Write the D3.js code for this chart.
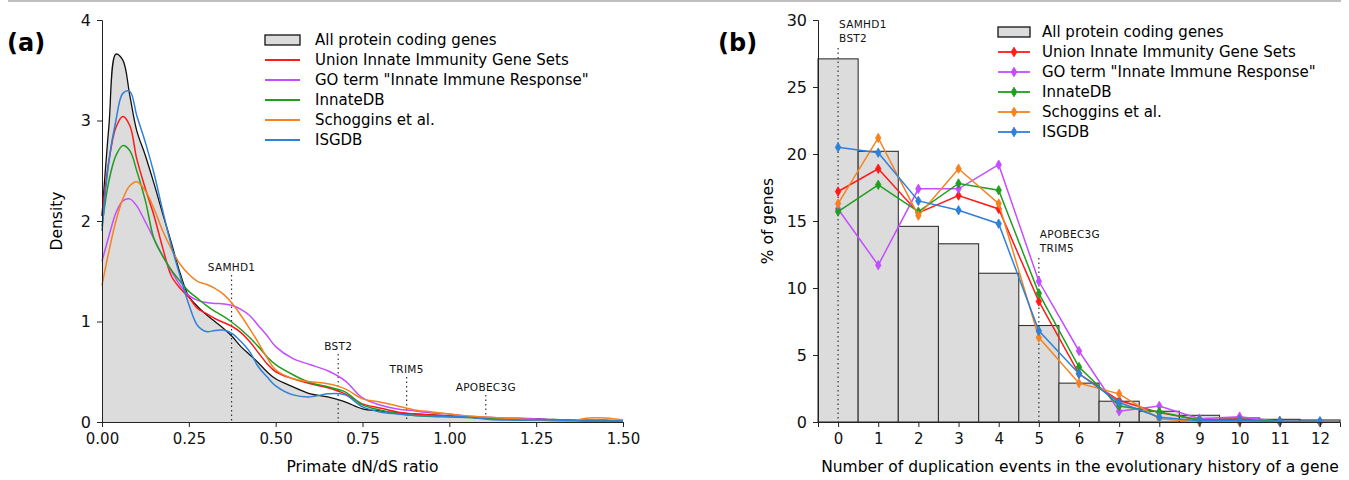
<!DOCTYPE html>
<html><head><meta charset="utf-8">
<script src="https://cdn.jsdelivr.net/npm/d3@7"></script>
<style>
body{margin:0;background:#fff;}
svg{display:block;font-family:"DejaVu Sans",sans-serif;}
</style></head><body>
<svg id="c" width="1349" height="480"></svg>
<script>
// ---------- Data: panel (a) densities ----------
const dndsGrid = [0,0.02,0.04,0.06,0.08,0.1,0.125,0.15,0.175,0.2,0.225,0.25,0.275,0.3,0.325,0.35,0.375,0.4,0.425,0.45,0.475,0.5,0.55,0.6,0.65,0.7,0.75,0.8,0.85,0.9,0.95,1.0,1.05,1.1,1.15,1.2,1.25,1.3,1.35,1.4,1.45,1.5];
const densAll      = [2.05,2.95,3.66,3.6,3.25,2.9,2.65,2.37,2.07,1.78,1.48,1.25,1.15,1.07,1.0,0.93,0.85,0.75,0.67,0.59,0.5,0.43,0.35,0.28,0.25,0.2,0.13,0.11,0.09,0.08,0.07,0.06,0.05,0.04,0.035,0.03,0.03,0.025,0.02,0.01,0.01,0.01];
const densUnion    = [2.05,2.6,2.93,3.04,2.95,2.62,2.32,2.05,1.73,1.45,1.33,1.24,1.13,1.08,1.03,0.99,0.95,0.89,0.8,0.69,0.58,0.5,0.43,0.38,0.34,0.28,0.18,0.14,0.1,0.08,0.07,0.06,0.05,0.04,0.03,0.03,0.025,0.02,0.02,0.02,0.02,0.01];
const densGO       = [1.6,1.85,2.08,2.2,2.22,2.15,1.99,1.82,1.65,1.5,1.36,1.26,1.21,1.19,1.18,1.175,1.16,1.12,1.06,0.96,0.86,0.75,0.63,0.57,0.51,0.41,0.24,0.17,0.13,0.11,0.09,0.08,0.06,0.05,0.04,0.04,0.03,0.02,0.02,0.015,0.01,0.01];
const densInnateDB = [1.95,2.4,2.65,2.75,2.7,2.5,2.2,1.82,1.65,1.51,1.4,1.3,1.23,1.16,1.1,1.05,0.99,0.92,0.84,0.75,0.65,0.57,0.47,0.39,0.35,0.3,0.17,0.12,0.085,0.065,0.055,0.05,0.045,0.04,0.03,0.02,0.02,0.02,0.015,0.01,0.01,0.01];
const densSchog    = [1.36,1.7,2.0,2.22,2.35,2.39,2.3,2.12,1.9,1.72,1.57,1.47,1.4,1.37,1.33,1.27,1.18,1.06,0.93,0.79,0.64,0.52,0.43,0.4,0.38,0.33,0.23,0.2,0.16,0.12,0.1,0.08,0.06,0.05,0.04,0.03,0.02,0.01,0.01,0.04,0.04,0.02];
const densISGDB    = [1.9,2.6,3.0,3.27,3.29,3.05,2.78,2.47,2.1,1.75,1.45,1.17,0.96,0.9,0.91,0.915,0.88,0.8,0.7,0.55,0.45,0.36,0.27,0.25,0.28,0.27,0.15,0.1,0.08,0.065,0.06,0.055,0.05,0.03,0.02,0.02,0.02,0.02,0.015,0.01,0.01,0.01];
const aXTicks = [0,0.25,0.5,0.75,1.0,1.25,1.5];
const aYTicks = [0,1,2,3,4];
const aGenes = ["SAMHD1","BST2","TRIM5","APOBEC3G"];
const aGeneX = [0.373,0.68,0.877,1.105];

// ---------- Data: panel (b) duplication ----------
const dupCats = [0,1,2,3,4,5,6,7,8,9,10,11,12];
const pctAll       = [27.1,20.2,14.6,13.3,11.1,7.2,2.9,1.55,0.8,0.5,0.3,0.2,0.15];
const pctUnion     = [17.2,18.9,15.6,16.9,15.9,9.0,3.6,1.6,0.7,0.15,0.2,0.05,0.02];
const pctGO        = [15.9,11.7,17.4,17.4,19.2,10.5,5.3,0.8,1.2,0.25,0.4,0.05,0.0];
const pctInnateDB  = [15.7,17.7,15.7,17.8,17.3,9.6,4.1,1.2,0.75,0.15,0.15,0.05,0.02];
const pctSchog     = [16.3,21.2,15.4,18.9,16.3,6.3,2.9,2.1,0.25,0.0,0.0,0.0,0.0];
const pctISGDB     = [20.5,20.1,16.5,15.8,14.8,6.8,3.6,1.45,0.35,0.1,0.1,0.05,0.05];
const bYTicks = [0,5,10,15,20,25,30];
const bGeneGroups = [["SAMHD1","BST2"],["APOBEC3G","TRIM5"]];
const bGeneX = [0,5];

const seriesNames = ["All protein coding genes","Union Innate Immunity Gene Sets","GO term \"Innate Immune Response\"","InnateDB","Schoggins et al.","ISGDB"];
const seriesColors = ["#000000","#ff1a1a","#c44dff","#1f9e1f","#f5821f","#2f80d8"];

// ---------- Drawing ----------
const svg = d3.select("#c");
const fs = 15;

svg.append("line").attr("x1",8).attr("x2",1341).attr("y1",1).attr("y2",1).attr("stroke","#aaa").attr("stroke-width",1.5);

svg.append("text").attr("x",7).attr("y",51).attr("font-size",24).attr("font-weight","bold").text("(a)");
svg.append("text").attr("x",718).attr("y",51).attr("font-size",24).attr("font-weight","bold").text("(b)");

function styleAxis(g){
  g.selectAll("path").attr("stroke","#222");
  g.selectAll("line").attr("stroke","#222");
  g.selectAll("text").attr("font-size",fs).attr("fill","#111").attr("font-family","DejaVu Sans");
}

// ===== Panel (a) =====
const ax = d3.scaleLinear().domain([0,1.5]).range([102,623]);
const ay = d3.scaleLinear().domain([0,4]).range([422,20]);
const gA = svg.append("g");
const curveA = d3.curveCatmullRom.alpha(0.5);

const areaAll = d3.area().x((d,i)=>ax(dndsGrid[i])).y0(ay(0)).y1(d=>ay(d)).curve(curveA);
const lineA = d3.line().x((d,i)=>ax(dndsGrid[i])).y(d=>ay(d)).curve(curveA);
gA.append("path").datum(densAll).attr("d",areaAll).attr("fill","#dcdcdc");
gA.append("path").datum(densAll).attr("d",lineA).attr("fill","none").attr("stroke","#111").attr("stroke-width",1.3);

aGenes.forEach((g,i)=>{
  const yTop = [275,354,377,395][i];
  gA.append("line").attr("x1",ax(aGeneX[i])).attr("x2",ax(aGeneX[i])).attr("y1",yTop).attr("y2",ay(0))
    .attr("stroke","#333").attr("stroke-width",1.2).attr("stroke-dasharray","1.5,3");
  gA.append("text").attr("x",ax(aGeneX[i])).attr("y",yTop-4).attr("text-anchor","middle")
    .attr("font-size",10.5).attr("letter-spacing",0.3).attr("fill","#111").text(g);
});

const densSets = [densUnion,densGO,densInnateDB,densSchog,densISGDB];
densSets.forEach((s,k)=>{
  gA.append("path").datum(s).attr("d",lineA).attr("fill","none")
    .attr("stroke",seriesColors[k+1]).attr("stroke-width",1.5);
});

const axA = gA.append("g").attr("transform",`translate(0,${ay(0)})`)
  .call(d3.axisBottom(ax).tickValues(aXTicks).tickFormat(d3.format(".2f")).tickSizeOuter(0).tickSize(5).tickPadding(6));
styleAxis(axA);
const ayA = gA.append("g").attr("transform",`translate(${ax(0)},0)`)
  .call(d3.axisLeft(ay).tickValues(aYTicks).tickFormat(d3.format("d")).tickSizeOuter(0).tickSize(5).tickPadding(6));
styleAxis(ayA);
ayA.selectAll("text").attr("font-size",16);

gA.append("text").attr("x",(ax(0)+ax(1.5))/2).attr("y",472).attr("text-anchor","middle").attr("font-size",15.5).text("Primate dN/dS ratio");
gA.append("text").attr("transform",`translate(62,${ay(2)}) rotate(-90)`).attr("text-anchor","middle").attr("font-size",15.5).text("Density");

const legA = gA.append("g");
seriesNames.forEach((n,i)=>{
  const y = 40 + i*20;
  if(i===0){
    legA.append("rect").attr("x",265).attr("y",y-5).attr("width",35).attr("height",10).attr("fill","#dcdcdc").attr("stroke","#111").attr("stroke-width",1.3);
  } else {
    legA.append("line").attr("x1",265).attr("x2",300).attr("y1",y).attr("y2",y).attr("stroke",seriesColors[i]).attr("stroke-width",1.8);
  }
  legA.append("text").attr("x",315).attr("y",y).attr("dy","0.35em").attr("font-size",15).text(n);
});

// ===== Panel (b) =====
const bx = d3.scaleLinear().domain([-0.5,12.5]).range([818,1340]);
const by = d3.scaleLinear().domain([0,30]).range([422,20]);
const gB = svg.append("g");

gB.selectAll("rect.bar").data(pctAll).join("rect").attr("class","bar")
  .attr("x",(d,i)=>bx(dupCats[i]-0.5)).attr("width",(d,i)=>bx(dupCats[i]+0.5)-bx(dupCats[i]-0.5))
  .attr("y",d=>by(d)).attr("height",d=>by(0)-by(d))
  .attr("fill","#dcdcdc").attr("stroke","#333").attr("stroke-width",1.1);

bGeneGroups.forEach((grp,i)=>{
  const yTop = [48,258][i];
  const x = bx(bGeneX[i]);
  gB.append("line").attr("x1",x).attr("x2",x).attr("y1",yTop).attr("y2",by(0))
    .attr("stroke","#333").attr("stroke-width",1.2).attr("stroke-dasharray","1.5,3");
  grp.forEach((g,j)=>{
    gB.append("text").attr("x",x+1).attr("y",yTop-20+j*14).attr("font-size",10.5).attr("letter-spacing",0.3).attr("fill","#111").text(g);
  });
});

const pctSets = [pctUnion,pctGO,pctInnateDB,pctSchog,pctISGDB];
const lineB = d3.line().x((d,i)=>bx(dupCats[i])).y(d=>by(d));
const diamond = d3.symbol().type(d3.symbolDiamond).size(26);
pctSets.forEach((s,k)=>{
  const c = seriesColors[k+1];
  gB.append("path").datum(s).attr("d",lineB).attr("fill","none").attr("stroke",c).attr("stroke-width",1.5);
  gB.selectAll(null).data(s).join("path").attr("d",diamond)
    .attr("transform",(d,i)=>`translate(${bx(dupCats[i])},${by(d)})`).attr("fill",c).attr("stroke",c).attr("stroke-width",0.8);
});

const axB = gB.append("g").attr("transform",`translate(0,${by(0)})`)
  .call(d3.axisBottom(bx).tickValues(dupCats).tickFormat(d3.format("d")).tickSizeOuter(0).tickSize(5).tickPadding(6));
styleAxis(axB);
const ayB = gB.append("g").attr("transform",`translate(${bx(-0.5)},0)`)
  .call(d3.axisLeft(by).tickValues(bYTicks).tickFormat(d3.format("d")).tickSizeOuter(0).tickSize(5).tickPadding(6));
styleAxis(ayB);
ayB.selectAll("text").attr("font-size",16);

gB.append("text").attr("x",1080).attr("y",472).attr("text-anchor","middle").attr("font-size",15.5).text("Number of duplication events in the evolutionary history of a gene");
gB.append("text").attr("transform",`translate(773,${by(15)}) rotate(-90)`).attr("text-anchor","middle").attr("font-size",15.5).text("% of genes");

const legB = gB.append("g");
seriesNames.forEach((n,i)=>{
  const y = 32 + i*20;
  if(i===0){
    legB.append("rect").attr("x",998).attr("y",y-5).attr("width",32).attr("height",10).attr("fill","#dcdcdc").attr("stroke","#111").attr("stroke-width",1.3);
  } else {
    legB.append("line").attr("x1",998).attr("x2",1030).attr("y1",y).attr("y2",y).attr("stroke",seriesColors[i]).attr("stroke-width",1.8);
    legB.append("path").attr("d",diamond).attr("transform",`translate(1014,${y})`).attr("fill",seriesColors[i]).attr("stroke",seriesColors[i]);
  }
  legB.append("text").attr("x",1042).attr("y",y).attr("dy","0.35em").attr("font-size",15).text(n);
});
</script>
</body></html>
